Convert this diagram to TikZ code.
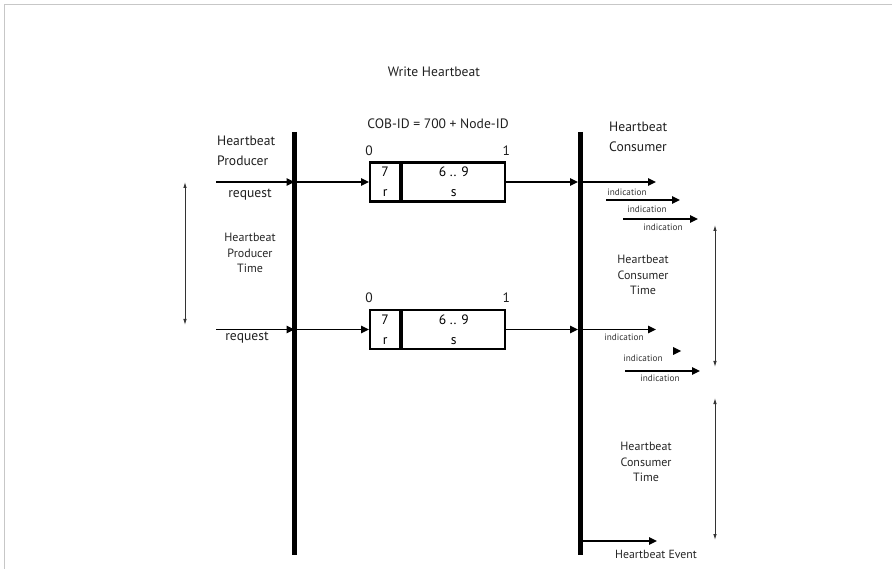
\documentclass[tikz,border=0pt]{standalone}
\usepackage{fontspec}
\setmainfont{PT Sans}
\usepackage{xcolor}
\usepackage{tikz}
\usetikzlibrary{arrows.meta,positioning}

\begin{document}
\begin{tikzpicture}[x=1pt,y=-1pt,
  txt/.style={inner sep=0pt,text=black!88,font=\fontsize{13.6}{20}\selectfont},
  small/.style={inner sep=0pt,text=black!85,font=\fontsize{12}{15.5}\selectfont,align=center},
  tiny/.style={inner sep=0pt,text=black!80,font=\fontsize{9.2}{11}\selectfont},
  cell/.style={draw,line width=2.2pt,inner sep=0pt,minimum height=39pt,align=center,font=\fontsize{13.6}{20}\selectfont},
  msg/.style={line width=1.3pt,-{Triangle[length=8pt,width=7.5pt]}},
  span/.style={line width=0.9pt,draw=black!80,{Latex[length=6pt,width=3.5pt]}-{Latex[length=6pt,width=3.5pt]}},
  bar/.style={line width=5pt}]
\useasboundingbox (0,0) rectangle (892,569);
\draw[black!22,line width=1.5pt] (4.5,569) -- (4.5,4.5) -- (892,4.5);
\node[txt] (title) at (434,72) {Write Heartbeat};
\node[txt] (cobid) at (438,124) {COB-ID = 700 + Node-ID};
\node[txt,align=left,anchor=west] (prod) at (217,150.6) {Heartbeat\\Producer};
\node[txt,align=left,anchor=west] (cons) at (609,136.6) {Heartbeat\\Consumer};
% lifelines
\coordinate (ptop) at (294.5,132); \coordinate (pbot) at (294.5,555);
\coordinate (ctop) at (580.5,132); \coordinate (cbot) at (580.5,555);
\draw[bar] (ptop) -- (pbot);
\draw[bar] (ctop) -- (cbot);
% frames
\node[cell,minimum width=30pt,anchor=west] (rA) at (369,182) {7\\r};
\node[cell,minimum width=103pt,anchor=west] (sA) at (rA.east) {6 .. 9\\s};
\node[txt,above=6pt of rA.north west] (zA) {0};
\node[txt,above=6pt of sA.north east] (oA) {1};
\node[cell,minimum width=30pt,anchor=west] (rB) at (369,329.5) {7\\r};
\node[cell,minimum width=103pt,anchor=west] (sB) at (rB.east) {6 .. 9\\s};
\node[txt,above=6pt of rB.north west] (zB) {0};
\node[txt,above=6pt of sB.north east] (oB) {1};
% producer side
\coordinate (reqA) at (216,182);
\coordinate (reqB) at (216,329.5);
\draw[msg] (reqA) -- (reqA -| ptop);
\draw[msg] (reqA -| ptop) -- (rA.west);
\draw[msg,shorten >=2.5pt] (sA.east) -- (sA.east -| ctop);
\draw[msg] (reqB) -- (reqB -| ptop);
\draw[msg] (reqB -| ptop) -- (rB.west);
\draw[msg,shorten >=2.5pt] (sB.east) -- (sB.east -| ctop);
\node[txt] (rqA) at (250,195) {request};
\node[txt] (rqB) at (247,338) {request};
\coordinate (ptA) at (185,182); \coordinate (ptB) at (185,325);
\draw[span] (ptA) -- (ptB);
\node[small] (ptime) at (250,253) {Heartbeat\\Producer\\Time};
% consumer side
\coordinate (indA) at (656,182);
\coordinate (indAs) at (606,200); \coordinate (indAe) at (680,200);
\coordinate (indAt) at (623,219); \coordinate (indAu) at (698,219);
\draw[msg] (indA -| ctop) -- (indA);
\draw[msg] (indAs) -- (indAe);
\draw[msg] (indAt) -- (indAu);
\node[tiny] (iA1) at (627,192) {indication};
\node[tiny] (iA2) at (647,209) {indication};
\node[tiny] (iA3) at (663,227) {indication};
\coordinate (indB) at (656,329.5);
\coordinate (lone) at (681,351);
\coordinate (indBt) at (625,371); \coordinate (indBu) at (700,371);
\draw[msg] (indB -| ctop) -- (indB);
\fill (lone) -- ++(-8,-4) -- ++(0,8) -- cycle;
\draw[msg] (indBt) -- (indBu);
\node[tiny] (iB1) at (624,337) {indication};
\node[tiny] (iB2) at (643,358) {indication};
\node[tiny] (iB3) at (660,378) {indication};
\coordinate (ctA) at (715,225); \coordinate (ctB) at (715,367);
\coordinate (ctC) at (715,398); \coordinate (ctD) at (715,540);
\draw[span] (ctA) -- (ctB);
\draw[span] (ctC) -- (ctD);
\node[small] (ctime) at (643,275) {Heartbeat\\Consumer\\Time};
\node[small] (ctime2) at (646,462) {Heartbeat\\Consumer\\Time};
\coordinate (evt) at (657,541);
\draw[msg,line width=1.6pt] (evt -| ctop) -- (evt);
\node[inner sep=0pt,text=black!85,font=\fontsize{11.8}{14}\selectfont] (evtl) at (656,554) {Heartbeat Event};
\end{tikzpicture}
\end{document}
